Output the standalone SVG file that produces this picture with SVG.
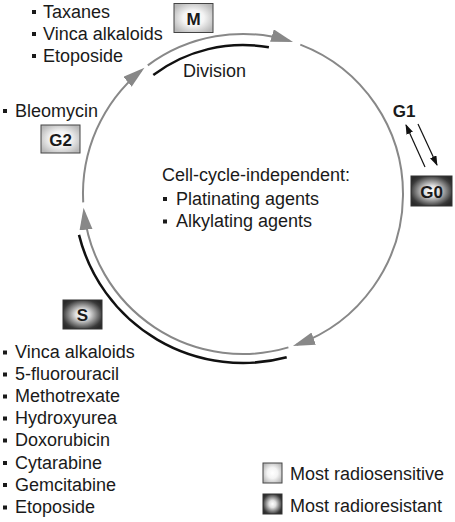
<svg xmlns="http://www.w3.org/2000/svg" width="455" height="522" viewBox="0 0 455 522">
<style>
.t{font-family:"Liberation Sans",Arial,sans-serif;font-size:18px;fill:#1a1a1a}
.b{font-family:"Liberation Sans",Arial,sans-serif;font-size:17px;font-weight:bold;fill:#1a1a1a;text-anchor:middle}
.g{fill:none;stroke:#888;stroke-width:2}
.k{fill:none;stroke:#111;stroke-width:2.5}
.thin{fill:none;stroke:#111;stroke-width:1.2}
.bl{fill:#1a1a1a}
.lt{fill:url(#light);stroke:#444;stroke-width:1}
.dk{fill:url(#dark);stroke:#333;stroke-width:1}
</style>
<defs>
<radialGradient id="light" cx="50%" cy="50%" r="60%">
<stop offset="0" stop-color="#ffffff"/>
<stop offset="0.45" stop-color="#f4f4f4"/>
<stop offset="1" stop-color="#b8b8b8"/>
</radialGradient>
<radialGradient id="dark" cx="50%" cy="50%" r="60%">
<stop offset="0" stop-color="#ffffff"/>
<stop offset="0.3" stop-color="#e0e0e0"/>
<stop offset="0.85" stop-color="#3a3a3a"/>
<stop offset="1" stop-color="#2a2a2a"/>
</radialGradient>
<marker id="ga" markerUnits="userSpaceOnUse" markerWidth="24" markerHeight="14" refX="18" refY="6.5" orient="auto">
<path d="M0,0 L22,6.5 L0,13 z" fill="#888"/>
</marker>
<marker id="ka" markerUnits="userSpaceOnUse" markerWidth="12" markerHeight="8" refX="9" refY="3.5" orient="auto">
<path d="M0,0 L10,3.5 L0,7 z" fill="#111"/>
</marker>
</defs>
<g id="connectors">
<path class="g" d="M300.3,44.6 A160,160 0 0 1 296.7,344.7" marker-end="url(#ga)"/>
<path class="g" d="M288.4,347.4 A160,160 0 0 1 84.0,211.8" marker-end="url(#ga)"/>
<path class="g" d="M83.2,202.4 A160,160 0 0 1 141.4,70.4" marker-end="url(#ga)"/>
<path class="g" d="M147.8,65.4 A160,160 0 0 1 289.2,40.8" marker-end="url(#ga)"/>
<path class="k" d="M153.3,75.0 A149,149 0 0 1 268.9,47.3"/>
<path class="k" d="M286.7,357.2 A169,169 0 0 1 79.0,234.9"/>
<path class="thin" d="M425,167 L406,125" marker-end="url(#ka)"/>
<path class="thin" d="M418,124 L437,165" marker-end="url(#ka)"/>
</g>
<g id="node-M">
<rect class="lt" x="174" y="3.5" width="39" height="29"/>
<text class="b" x="193.5" y="24.5">M</text>
</g>
<g id="node-G2">
<rect class="lt" x="41" y="125" width="39" height="28"/>
<text class="b" x="60.5" y="145.5">G2</text>
</g>
<g id="node-G0">
<rect class="dk" x="411" y="176" width="41" height="30"/>
<text class="b" x="431.5" y="197.5">G0</text>
</g>
<g id="node-S">
<rect class="dk" x="63" y="300" width="39" height="29"/>
<text class="b" x="82.5" y="320.5">S</text>
</g>
<g id="label-G1">
<text class="b" x="404" y="117">G1</text>
</g>
<g id="label-division">
<text class="t" x="183" y="77">Division</text>
</g>
<g id="list-M">
<rect class="bl" x="32" y="10" width="4" height="4"/>
<text class="t" x="43" y="17.5">Taxanes</text>
<rect class="bl" x="32" y="32" width="4" height="4"/>
<text class="t" x="43" y="39.5">Vinca alkaloids</text>
<rect class="bl" x="32" y="54" width="4" height="4"/>
<text class="t" x="43" y="61.5">Etoposide</text>
</g>
<g id="list-G2">
<rect class="bl" x="3" y="109" width="4" height="4"/>
<text class="t" x="15" y="116.5">Bleomycin</text>
</g>
<g id="list-independent">
<text class="t" x="162" y="181">Cell-cycle-independent:</text>
<rect class="bl" x="163" y="197" width="4" height="4"/>
<text class="t" x="176" y="204.5">Platinating agents</text>
<rect class="bl" x="163" y="219.5" width="4" height="4"/>
<text class="t" x="176" y="227">Alkylating agents</text>
</g>
<g id="list-S">
<rect class="bl" x="3" y="350.5" width="4" height="4"/>
<text class="t" x="15" y="358">Vinca alkaloids</text>
<rect class="bl" x="3" y="372.5" width="4" height="4"/>
<text class="t" x="15" y="380">5-fluorouracil</text>
<rect class="bl" x="3" y="394.5" width="4" height="4"/>
<text class="t" x="15" y="402">Methotrexate</text>
<rect class="bl" x="3" y="416.5" width="4" height="4"/>
<text class="t" x="15" y="424">Hydroxyurea</text>
<rect class="bl" x="3" y="438.5" width="4" height="4"/>
<text class="t" x="15" y="446">Doxorubicin</text>
<rect class="bl" x="3" y="461" width="4" height="4"/>
<text class="t" x="15" y="468.5">Cytarabine</text>
<rect class="bl" x="3" y="483" width="4" height="4"/>
<text class="t" x="15" y="490.5">Gemcitabine</text>
<rect class="bl" x="3" y="505.5" width="4" height="4"/>
<text class="t" x="15" y="513">Etoposide</text>
</g>
<g id="legend">
<rect class="lt" x="263" y="463" width="19" height="20"/>
<text class="t" x="290" y="480">Most radiosensitive</text>
<rect class="dk" x="263" y="494" width="19" height="20"/>
<text class="t" x="290" y="511.5">Most radioresistant</text>
</g>
</svg>
